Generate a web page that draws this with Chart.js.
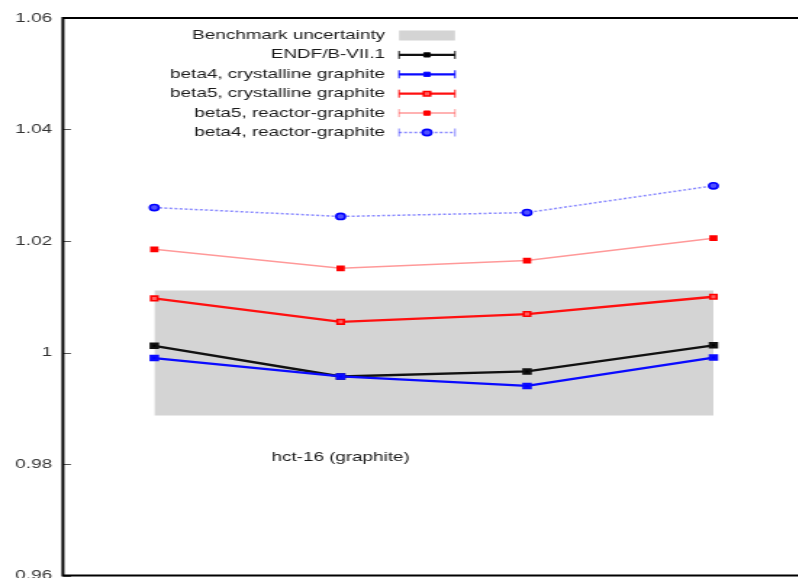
<!DOCTYPE html>
<html><head><meta charset="utf-8">
<script src="https://cdn.jsdelivr.net/npm/chart.js@4/dist/chart.umd.min.js"></script>
<style>
html,body{margin:0;padding:0;background:#fff;overflow:hidden}
#wrap{width:798px;height:578px;overflow:hidden;position:relative;background:#fff}
#c{position:absolute;left:0;top:0;transform:scaleX(1.45);transform-origin:0 0}
</style></head><body>
<div id="wrap"><canvas id="c" width="560" height="600"></canvas></div>
<script>
// hct-16 (graphite) cases and calculated k-eff for each data library
const cases = [1, 2, 3, 4];
const benchmarkLow = [0.9887, 0.9887, 0.9887, 0.9887];
const benchmarkHigh = [1.0111, 1.0111, 1.0111, 1.0111];
const endf71 = [1.0012, 0.9957, 0.9966, 1.0013];
const beta4Crystal = [0.9990, 0.9957, 0.9940, 0.9991];
const beta5Crystal = [1.0097, 1.0055, 1.0069, 1.0100];
const beta5Reactor = [1.0185, 1.0151, 1.0165, 1.0205];
const beta4Reactor = [1.0260, 1.0244, 1.0251, 1.0299];
const yTicks = [0.96, 0.98, 1, 1.02, 1.04, 1.06];
const yTickLabels = ['0.96', '0.98', '1', '1.02', '1.04', '1.06'];
const caseLabel = 'hct-16 (graphite)';
const caseLabelY = 0.9811;

const FONT = '13px "Liberation Sans", Arial, sans-serif';
const pts = arr => cases.map((x, i) => ({x, y: arr[i]}));

// the band sits underneath everything (higher order is drawn first)
const datasets = [
  {label: 'Benchmark uncertainty', data: pts(benchmarkHigh), fill: '+1', order: 20,
   backgroundColor: '#d4d4d4', borderWidth: 0, pointRadius: 0, legendBox: true},
  {label: '', data: pts(benchmarkLow), fill: false, borderWidth: 0, order: 21,
   pointRadius: 0, noLegend: true},
  {label: 'ENDF/B-VII.1', data: pts(endf71), borderColor: '#111', backgroundColor: '#000',
   borderWidth: 2.3, pointStyle: 'rect', pointRadius: 3, order: 1},
  {label: 'beta4, crystalline graphite', data: pts(beta4Crystal), borderColor: '#0a0aff',
   backgroundColor: '#0000ff', borderWidth: 2.3, pointStyle: 'rect', pointRadius: 3, order: 0},
  {label: 'beta5, crystalline graphite', data: pts(beta5Crystal), borderColor: '#ff1010',
   backgroundColor: '#ff0000', pointBorderColor: '#ff0000', pointBackgroundColor: '#ff6060',
   pointBorderWidth: 1.6, borderWidth: 2.3, pointStyle: 'rect', pointRadius: 3.2, order: 2},
  {label: 'beta5, reactor-graphite', data: pts(beta5Reactor), borderColor: 'rgba(255,70,70,0.55)',
   backgroundColor: '#ff0000', pointBorderColor: '#ff0000', pointBackgroundColor: '#ff0000',
   borderWidth: 1.5, pointStyle: 'rect', pointRadius: 3, order: 3},
  {label: 'beta4, reactor-graphite', data: pts(beta4Reactor), borderColor: 'rgba(40,40,255,0.55)',
   backgroundColor: '#0000ff', pointBorderColor: '#0000ff', pointBackgroundColor: '#5050ff',
   pointBorderWidth: 1.6, borderWidth: 1.5, borderDash: [2, 1.5], pointStyle: 'circle',
   pointRadius: 3.1, order: 4}
];

// frame, inward ticks, case label and key
const decorations = {
  id: 'decorations',
  afterDraw(chart) {
    const {ctx, chartArea: a, scales: {x, y}} = chart;
    ctx.save();
    // inward tick marks on the left axis
    ctx.strokeStyle = '#555';
    ctx.lineWidth = 1;
    yTicks.forEach(v => {
      const py = Math.round(y.getPixelForValue(v)) + 0.5;
      ctx.beginPath(); ctx.moveTo(a.left, py); ctx.lineTo(a.left + 5.5, py); ctx.stroke();
    });
    // plot border
    ctx.strokeStyle = '#000';
    ctx.lineWidth = 2;
    ctx.strokeRect(a.left, a.top, a.right - a.left, a.bottom - a.top);
    // case label
    ctx.fillStyle = '#1a1a1a';
    ctx.font = FONT;
    ctx.textAlign = 'center';
    ctx.textBaseline = 'middle';
    ctx.fillText(caseLabel, x.getPixelForValue(cases[1]), y.getPixelForValue(caseLabelY));
    // key
    const textRight = 265.5, s0 = 275.2, s1 = 313.8, mid = (s0 + s1) / 2;
    let row = 0;
    chart.data.datasets.forEach(ds => {
      if (ds.noLegend) return;
      const ry = 35.5 + row * 19.4;
      ctx.fillStyle = '#1a1a1a';
      ctx.textAlign = 'right';
      ctx.fillText(ds.label, textRight, ry);
      if (ds.legendBox) {
        ctx.fillStyle = ds.backgroundColor;
        ctx.fillRect(s0, ry - 5, s1 - s0, 10);
      } else {
        ctx.strokeStyle = ds.borderColor;
        ctx.lineWidth = ds.borderWidth;
        ctx.setLineDash(ds.borderDash || []);
        ctx.beginPath(); ctx.moveTo(s0, ry); ctx.lineTo(s1, ry); ctx.stroke();
        ctx.setLineDash([]);
        ctx.lineWidth = 1;
        ctx.beginPath();
        ctx.moveTo(s0, ry - 4); ctx.lineTo(s0, ry + 4);
        ctx.moveTo(s1, ry - 4); ctx.lineTo(s1, ry + 4);
        ctx.stroke();
        ctx.fillStyle = ds.pointBackgroundColor || ds.backgroundColor;
        ctx.strokeStyle = ds.pointBorderColor || ds.borderColor;
        ctx.lineWidth = ds.pointBorderWidth || 1;
        Chart.helpers.drawPoint(ctx, {pointStyle: ds.pointStyle, radius: ds.pointRadius,
          borderWidth: ctx.lineWidth, rotation: 0}, mid, ry);
      }
      row++;
    });
    ctx.restore();
  }
};

new Chart(document.getElementById('c'), {
  type: 'line',
  data: {datasets},
  plugins: [decorations],
  options: {
    responsive: false,
    animation: false,
    devicePixelRatio: 1,
    layout: {padding: {left: 0, top: 18, right: 3, bottom: 24.5}},
    plugins: {legend: {display: false}, tooltip: {enabled: false}},
    elements: {line: {tension: 0}},
    scales: {
      x: {type: 'linear', min: 0.51, max: 4.48, display: false},
      y: {
        type: 'linear', min: 0.96, max: 1.06,
        afterBuildTicks: s => { s.ticks = yTicks.map(v => ({value: v})); },
        afterFit: s => { s.width = 43.4; },
        border: {display: false},
        grid: {display: false, drawTicks: false},
        ticks: {
          padding: 7.5,
          color: '#333',
          font: {family: '"Liberation Sans", Arial, sans-serif', size: 13},
          callback: v => yTickLabels[yTicks.findIndex(t => Math.abs(t - v) < 1e-9)]
        }
      }
    }
  }
});
</script>
</body></html>
